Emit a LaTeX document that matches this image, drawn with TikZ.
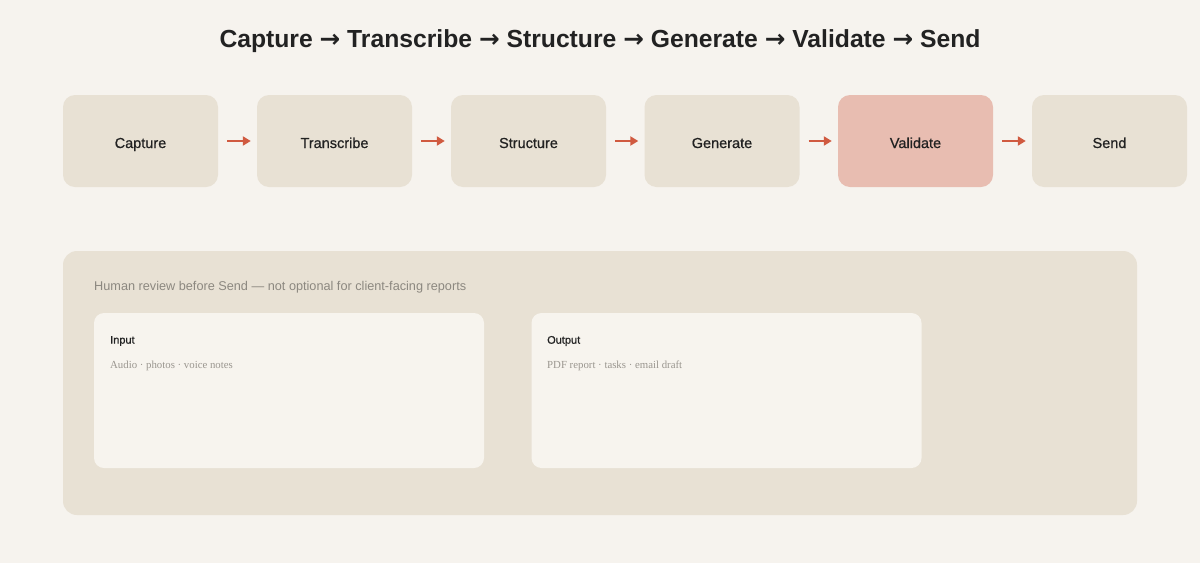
\documentclass[tikz,border=0pt]{standalone}
\usepackage{fontspec}
\setmainfont{Liberation Sans}
\newfontfamily\serifcard{Liberation Serif}
\newfontfamily\medfont{Liberation Sans}[FakeBold=0.7]
\newfontfamily\arrowfont{DejaVu Sans}
\usetikzlibrary{arrows.meta}
\definecolor{bgc}{HTML}{F6F3EE}
\definecolor{boxc}{HTML}{E8E1D4}
\definecolor{valc}{HTML}{E8BDB1}
\definecolor{arrc}{HTML}{D05A40}
\definecolor{cardc}{HTML}{F7F4EE}
\definecolor{txtc}{HTML}{222222}
\definecolor{grayc}{HTML}{8C8880}
\definecolor{sgray}{HTML}{9A968F}
\newcommand{\tarr}{{\arrowfont\bfseries →}}
\tikzset{
  stagebox/.style={fill=boxc, rounded corners=12pt, minimum width=155pt, minimum height=92pt, inner sep=0pt, font=\medfont\fontsize{14.5}{16}\selectfont, text=txtc, text height=16pt, text depth=2pt},
  flowarrow/.style={draw=arrc, line width=2.4pt, -{Triangle[length=8pt,width=9pt]}},
  cardbox/.style={fill=cardc, rounded corners=10pt, minimum width=390pt, minimum height=155pt, inner sep=0pt},
}
\begin{document}
\begin{tikzpicture}[x=1pt,y=-1pt]
\useasboundingbox[fill=bgc] (0,0) rectangle (1200,563);
\node[font=\bfseries\fontsize{24.7}{30}\selectfont, text=txtc] (title) at (600,41) {Capture \tarr{} Transcribe \tarr{} Structure \tarr{} Generate \tarr{} Validate \tarr{} Send};
\node[stagebox] (s1) at (140.5,141) {Capture};
\node[stagebox] (s2) at (334.5,141) {Transcribe};
\node[stagebox] (s3) at (528.5,141) {Structure};
\node[stagebox] (s4) at (722,141) {Generate};
\node[stagebox, fill=valc] (s5) at (915.5,141) {Validate};
\node[stagebox] (s6) at (1109.5,141) {Send};
\foreach \a/\b in {s1/s2,s2/s3,s3/s4,s4/s5,s5/s6}{
  \draw[flowarrow] ([xshift=9pt]\a.east) -- ([xshift=-6pt]\b.west);
}
\node[fill=boxc, rounded corners=14pt, minimum width=1074pt, minimum height=264pt, inner sep=0pt] (panel) at (600,383) {};
\node[anchor=west, font=\fontsize{12.7}{14}\selectfont, text=grayc, inner sep=0pt] (note) at (94,287) {Human review before Send — not optional for client-facing reports};
\node[cardbox] (in) at (289,390.5) {};
\node[cardbox] (out) at (726.5,390.5) {};
\node[anchor=west, font=\medfont\fontsize{11}{13}\selectfont, text=txtc, inner sep=0pt] (inlab) at (110,341) {Input};
\node[anchor=west, font=\serifcard\fontsize{10.8}{12}\selectfont, text=sgray, inner sep=0pt] (intxt) at (110,366) {Audio · photos · voice notes};
\node[anchor=west, font=\medfont\fontsize{11}{13}\selectfont, text=txtc, inner sep=0pt] (outlab) at (547,341) {Output};
\node[anchor=west, font=\serifcard\fontsize{10.8}{12}\selectfont, text=sgray, inner sep=0pt] (outtxt) at (547,366) {PDF report · tasks · email draft};
\end{tikzpicture}
\end{document}
